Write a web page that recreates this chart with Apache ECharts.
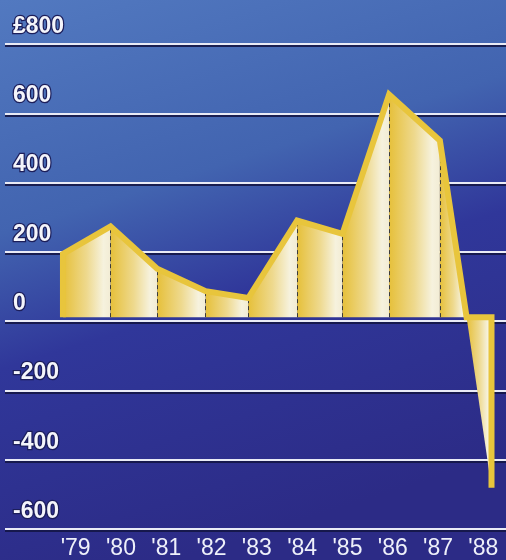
<!DOCTYPE html>
<html>
<head>
<meta charset="utf-8">
<script src="https://cdn.jsdelivr.net/npm/echarts@6/dist/echarts.min.js"></script>
<style>
  html, body { margin: 0; padding: 0; }
  #chart { width: 506px; height: 560px; }
</style>
</head>
<body>
<div id="chart"></div>
<script>
// Year labels along the bottom
const years = ["'79", "'80", "'81", "'82", "'83", "'84", "'85", "'86", "'87", "'88"];
// Horizontal positions (in year-band units) of the chart's vertices
const edges = [-0.28, 0.77, 1.80, 2.87, 3.81, 4.89, 5.89, 6.92, 8.04, 8.63, 9.18];
// Values (£) at those vertices
const values = [185, 266, 142, 76, 56, 283, 244, 652, 517, 0, -500];
// Y tick labels from -600 to 800
const yTickValues = [-600, -400, -200, 0, 200, 400, 600, 800];
const yTickLabels = ['-600', '-400', '-200', '0', '200', '400', '600', '£800'];

const chart = echarts.init(document.getElementById('chart'));

const bandGradient = {
  type: 'linear', x: 0, y: 0, x2: 1, y2: 0,
  colorStops: [
    { offset: 0, color: '#e6c03a' },
    { offset: 0.5, color: '#eed98e' },
    { offset: 0.85, color: '#f6f2de' },
    { offset: 1, color: '#f2ecd4' }
  ]
};

const bandSeries = [];
for (let i = 0; i < edges.length - 1; i++) {
  bandSeries.push({
    type: 'line',
    xAxisIndex: 2,
    yAxisIndex: 1,
    data: [[edges[i], values[i]], [edges[i + 1], values[i + 1]]],
    symbol: 'none',
    silent: true,
    lineStyle: { width: 0 },
    areaStyle: { color: bandGradient, opacity: 1, origin: 0 },
    z: 2
  });
}

const outline = [[edges[0], 0]];
for (let i = 0; i < edges.length - 1; i++) outline.push([edges[i], values[i]]);
outline.push([edges[edges.length - 1], 0]);
outline.push([edges[edges.length - 1], values[values.length - 1]]);

const dividers = [];
for (let i = 1; i < edges.length - 2; i++) {
  dividers.push([{ coord: [edges[i], 0] }, { coord: [edges[i], values[i]] }]);
}

chart.setOption({
  animation: false,
  backgroundColor: {
    type: 'linear', x: 0, y: 0, x2: 0.35, y2: 1,
    colorStops: [
      { offset: 0, color: '#5279c0' },
      { offset: 0.38, color: '#4264b0' },
      { offset: 0.6, color: '#30379a' },
      { offset: 1, color: '#2c2b86' }
    ]
  },
  grid: [
    { left: 5, right: 0, top: 44, bottom: 31 },
    { left: 53, right: -4, top: 44, bottom: 31 }
  ],
  xAxis: [
    { type: 'value', gridIndex: 0, show: false, min: 0, max: 1 },
    {
      type: 'category', gridIndex: 1, position: 'bottom', data: years,
      boundaryGap: true,
      axisLine: { show: false }, axisTick: { show: false },
      axisLabel: {
        margin: 15, color: '#eef0fa', fontSize: 23,
        fontFamily: '"Liberation Sans", Arial, sans-serif'
      }
    },
    { type: 'value', gridIndex: 1, show: false, min: -0.5, max: 9.5, position: 'top' }
  ],
  yAxis: [
    {
      type: 'value', gridIndex: 0, min: -600, max: 800, interval: 200,
      axisLine: { show: false }, axisTick: { show: false },
      splitLine: {
        show: true,
        lineStyle: {
          color: '#e9ebf6', width: 2,
          shadowColor: 'rgba(20,22,70,0.9)', shadowOffsetY: 2, shadowBlur: 0
        }
      },
      axisLabel: {
        inside: true, margin: 8, align: 'left', verticalAlign: 'bottom',
        padding: [0, 0, 6, 0], lineHeight: 23,
        color: '#f4f5fb', fontSize: 23, fontWeight: 'bold',
        fontFamily: '"Liberation Sans", Arial, sans-serif',
        textBorderColor: '#1c1e5a', textBorderWidth: 2.5,
        formatter: function (v) {
          const idx = yTickValues.indexOf(v);
          return idx >= 0 ? yTickLabels[idx] : '';
        }
      }
    },
    { type: 'value', gridIndex: 1, min: -600, max: 800, show: false }
  ],
  series: bandSeries.concat([
    {
      type: 'line',
      xAxisIndex: 2,
      yAxisIndex: 1,
      data: outline,
      symbol: 'none',
      silent: true,
      lineStyle: { color: '#e8c53c', width: 6, join: 'miter', cap: 'butt' },
      z: 4,
      markLine: {
        silent: true,
        symbol: ['none', 'none'],
        label: { show: false },
        lineStyle: { type: [4, 3], color: '#3b3a3a', width: 1 },
        data: dividers,
        z: 3
      }
    }
  ])
});
</script>
</body>
</html>
